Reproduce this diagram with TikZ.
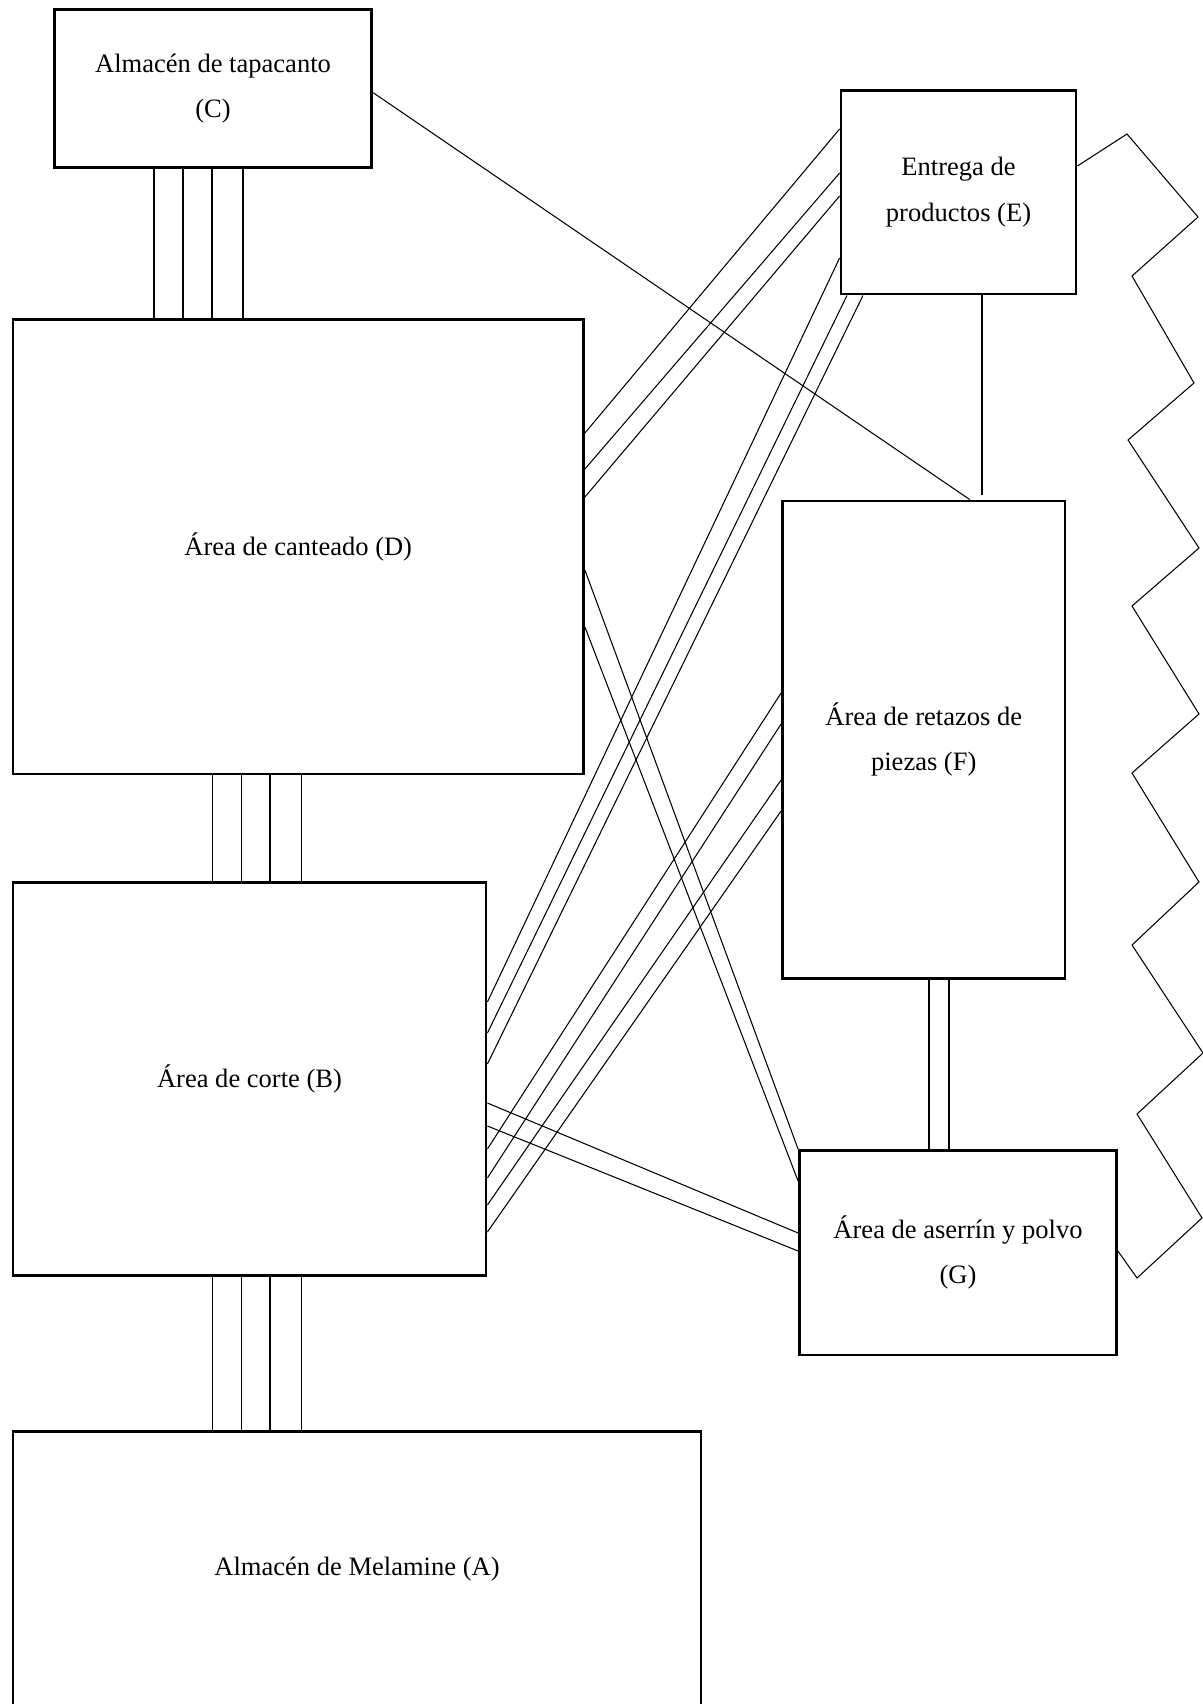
\documentclass[tikz,border=0pt]{standalone}
\usepackage{fontspec}
\setmainfont{Liberation Serif}
\begin{document}
\begin{tikzpicture}[x=0.1mm, y=-0.1mm,
    area/.style={draw, line width=0.8pt, inner sep=0pt, align=center,
        font=\fontsize{7.55}{12.9}\selectfont},
    flujo/.style={line width=0.3pt}]
    \useasboundingbox (0,0) rectangle (1203,1704);

    \node[area, minimum width=31.75mm, minimum height=15.8mm] (C) at (213,88.5) {Almacén de tapacanto\\(C)};
    \node[area, minimum width=57.05mm, minimum height=45.45mm] (D) at (298.25,546.75) {Área de canteado (D)};
    \node[area, minimum width=47.3mm, minimum height=39.3mm] (B) at (249.5,1079) {Área de corte (B)};
    \node[area, minimum width=68.8mm, minimum height=27.45mm] (A) at (357,1568.75) {Almacén de Melamine (A)};
    \node[area, minimum width=23.5mm, minimum height=20.35mm] (E) at (958.5,192.25) {Entrega de\\productos (E)};
    \node[area, minimum width=28.25mm, minimum height=47.75mm] (F) at (923.75,739.75) {Área de retazos de\\piezas (F)};
    \node[area, minimum width=31.7mm, minimum height=20.45mm] (G) at (958,1252.75) {Área de aserrín y polvo\\(G)};

    % vertical links
    \foreach \x in {154,183,212,243}
        \draw[flujo] (\x,0 |- C.south) -- (\x,0 |- D.north);
    \foreach \x in {212.5,241.5,270,301.5} {
        \draw[flujo] (\x,0 |- D.south) -- (\x,0 |- B.north);
        \draw[flujo] (\x,0 |- B.south) -- (\x,0 |- A.north);
    }
    \foreach \x in {929,949}
        \draw[flujo] (\x,0 |- F.south) -- (\x,0 |- G.north);
    \coordinate (fE) at (982,495);
    \draw[flujo] (982,0 |- E.south) -- (fE);

    % diagonal links
    \draw[flujo] (C.east |- 0,92.7) -- (969.8,0 |- F.north);
    \foreach \a/\b in {433/129, 469/173, 497/196}
        \draw[flujo] (D.east |- 0,\a) -- (E.west |- 0,\b);
    \draw[flujo] (B.east |- 0,1002) -- (E.west |- 0,258);
    \foreach \a/\b in {1033/847, 1064/863}
        \draw[flujo] (B.east |- 0,\a) -- (\b,0 |- E.south);
    \foreach \a/\b in {1149/693, 1178/724, 1205/780, 1232/811}
        \draw[flujo] (B.east |- 0,\a) -- (F.west |- 0,\b);
    \foreach \a/\b in {1103/1233, 1126/1251}
        \draw[flujo] (B.east |- 0,\a) -- (G.west |- 0,\b);
    \draw[flujo] (D.east |- 0,570) -- (G.north west);
    \draw[flujo] (D.east |- 0,627) -- (G.west |- 0,1181);

    % zigzag E - G
    \draw[flujo] (E.east |- 0,166) -- (1127,134) -- (1198,217) -- (1132,276)
        -- (1194,383) -- (1128,440) -- (1199,548) -- (1132,606) -- (1199,714)
        -- (1132,773) -- (1199,882) -- (1132,945) -- (1203,1053) -- (1137,1114)
        -- (1202,1218) -- (1137,1278) -- (G.east |- 0,1251);
\end{tikzpicture}
\end{document}
